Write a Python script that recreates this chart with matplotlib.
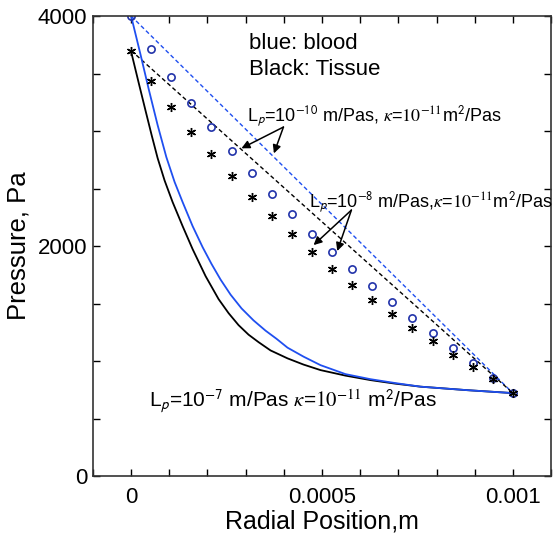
import numpy as np
import matplotlib
matplotlib.use('Agg')
import matplotlib.pyplot as plt
from matplotlib.ticker import MultipleLocator

plt.rcParams['font.family'] = 'Liberation Sans'
plt.rcParams['mathtext.fontset'] = 'stix'

# radial positions of the marker series (20 nodes over the wall)
r_nodes = np.linspace(0, 0.001, 20)

# Lp=1e-8: blood (circles) and tissue (stars)
p_blood_8 = [4000, 3710, 3472, 3246, 3032, 2829, 2635, 2455, 2278, 2107,
             1950, 1797, 1650, 1510, 1374, 1241, 1110, 983, 855, 719]
p_tissue_8 = [3698, 3435, 3206, 2994, 2797, 2609, 2429, 2261, 2102, 1948,
              1800, 1663, 1533, 1406, 1287, 1171, 1055, 948, 843, 719]

# Lp=1e-10: straight dashed profiles
r_lin = [0, 0.001]
p_blood_10 = [4000, 722]
p_tissue_10 = [3700, 722]

# Lp=1e-7: solid curves
r_blood_7 = [0, 0.0000249, 0.0000466, 0.0000694, 0.0000922, 0.0001139,
             0.0001348, 0.000161, 0.0001872, 0.0002107, 0.0002343, 0.0002605,
             0.0002893, 0.0003207, 0.0003521, 0.0003809, 0.0004097,
             0.0004516, 0.0004961, 0.0005615, 0.000627, 0.0006924,
             0.0007579, 0.0008783, 0.001]
p_blood_7 = [4000, 3661, 3357, 3052, 2774, 2557, 2383, 2174, 1991, 1844,
             1709, 1578, 1458, 1354, 1265, 1194, 1117, 1039, 965, 887, 843,
             809, 778, 748, 722]
r_tissue_7 = [0, 0.0000196, 0.000038, 0.0000537, 0.0000694, 0.0000877,
              0.0001086, 0.0001348, 0.000161, 0.000195, 0.0002291, 0.0002553,
              0.0002814, 0.0003076, 0.0003338, 0.0003652, 0.0004097,
              0.0004516, 0.0004961, 0.0005615, 0.000627, 0.0006924,
              0.0007579, 0.0008783, 0.001]
p_tissue_7 = [3690, 3422, 3174, 2965, 2765, 2570, 2383, 2174, 1974, 1739,
              1539, 1417, 1313, 1230, 1165, 1093, 1024, 970, 922, 874, 835,
              804, 778, 748, 722]

blue = '#1f4ff0'
navy = '#2233aa'

fig = plt.figure(figsize=(5.6, 5.35), dpi=100)
ax = fig.add_axes([0.166, 0.110, 0.818, 0.860])

ax.plot(r_lin, p_blood_10, '--', color=blue, lw=1.0, dashes=(3, 2))
ax.plot(r_lin, p_tissue_10, '--', color='k', lw=1.0, dashes=(3, 2))
ax.plot(r_tissue_7, p_tissue_7, '-', color='k', lw=1.3)
ax.plot(r_blood_7, p_blood_7, '-', color=blue, lw=1.3)
ax.plot(r_nodes, p_blood_8, 'o', ms=5.2, mfc='none', mec=navy, mew=1.2)
ax.plot(r_nodes, p_tissue_8, ls='none', marker=(6, 2, 0), ms=6.5, mec='k',
        mew=1.0)

ax.set_xlim(-0.0001, 0.0011)
ax.set_ylim(0, 4000)
ax.set_xticks([0, 0.0005, 0.001])
ax.set_xticklabels(['0', '0.0005', '0.001'])
ax.set_yticks([0, 2000, 4000])
ax.xaxis.set_minor_locator(MultipleLocator(0.0001))
ax.yaxis.set_minor_locator(MultipleLocator(500))
ax.tick_params(which='both', direction='in', top=True, right=True,
               length=5, width=1, labelsize=16)
ax.tick_params(axis='x', pad=8)
ax.tick_params(axis='y', pad=4)
for s in ax.spines.values():
    s.set_linewidth(1.2)
    s.set_color('#333333')

ax.set_xlabel('Radial Position,m', fontsize=18, labelpad=1)
ax.set_ylabel('Pressure, Pa', fontsize=18.5, labelpad=5)

ax.text(0.000308, 3713, 'blue: blood', fontsize=16, va='baseline')
ax.text(0.000308, 3487, 'Black: Tissue', fontsize=16, va='baseline')

ax.text(0.000304, 3081,
        r'L$_\mathsf{p}$=10$^{\mathsf{-10}}$ m/Pas, $\kappa$=$10^{-11}$m$^\mathsf{2}$/Pas',
        fontsize=13, va='baseline')
ax.text(0.000465, 2330,
        r'L$_\mathsf{p}$=10$^{\mathsf{-8}}$ m/Pas,$\kappa$=$10^{-11}$m$^\mathsf{2}$/Pas',
        fontsize=13, va='baseline')
ax.text(0.0000458, 603,
        r'L$_\mathsf{p}$=10$^{\mathsf{-7}}$ m/Pas $\kappa$=$10^{-11}$ m$^\mathsf{2}$/Pas',
        fontsize=15, va='baseline')

arrow = dict(arrowstyle='-|>', color='k', lw=1.1, mutation_scale=12,
             shrinkA=0, shrinkB=0)
ax.annotate('', xy=(0.000289, 2850), xytext=(0.000399, 3035), arrowprops=arrow)
ax.annotate('', xy=(0.000374, 2806), xytext=(0.000399, 3035), arrowprops=arrow)
ax.annotate('', xy=(0.000478, 2009), xytext=(0.000577, 2313), arrowprops=arrow)
ax.annotate('', xy=(0.00054, 1957), xytext=(0.000577, 2313), arrowprops=arrow)

fig.savefig('out.png', dpi=100)
